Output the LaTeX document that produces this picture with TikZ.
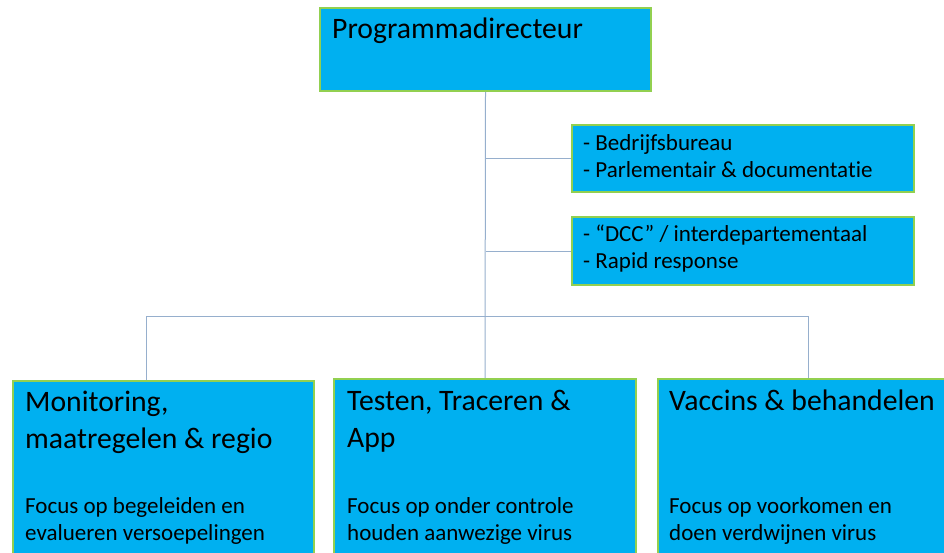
\documentclass[tikz,border=0pt]{standalone}
\usepackage{fontspec}
\setmainfont[Ligatures=CommonOff]{Carlito}
\definecolor{boxfill}{RGB}{0,176,240}
\definecolor{boxedge}{RGB}{146,208,80}
\definecolor{connc}{RGB}{150,175,205}
\begin{document}
\begin{tikzpicture}[x=1pt,y=-1pt,
  box/.style={draw=boxedge, line width=2pt, fill=boxfill, inner sep=0pt, anchor=north west},
  hd/.style={anchor=base west, inner sep=0pt, font=\fontsize{29.7}{34}\selectfont},
  bd/.style={anchor=base west, inner sep=0pt, font=\fontsize{23}{27}\selectfont},
  conn/.style={draw=connc, line width=1pt}]
\useasboundingbox (0,0) rectangle (944,553);
\clip (0,0) rectangle (944,553);
% boxes
\node[box, minimum width=331pt, minimum height=83pt] (top) at (319,7) {};
\node[box, minimum width=342pt, minimum height=67pt] (s1) at (571,124) {};
\node[box, minimum width=342pt, minimum height=68pt] (s2) at (571,216) {};
\node[box, minimum width=301pt, minimum height=200pt] (left) at (12,380) {};
\node[box, minimum width=302pt, minimum height=200pt] (mid) at (333,378) {};
\node[box, minimum width=302pt, minimum height=200pt] (right) at (657,378) {};
% connectors
\coordinate (jL) at (146,316);
\coordinate (jR) at (808,316);
\draw[conn] (top.south) -- (mid.north);
\draw[conn] (top.south |- s1.west) -- (s1.west);
\draw[conn] (top.south |- s2.west) -- (s2.west);
\draw[conn] (jL) -- (jR);
\draw[conn] (jL) -- (jL |- left.north);
\draw[conn] (jR) -- (jR |- right.north);
% texts
\node[hd] (ttop) at (332,39) {Programmadirecteur};
\node[bd] (s1a) at (583,151) {- Bedrijfsbureau};
\node[bd] (s1b) at (583,178) {- Parlementair \& documentatie};
\node[bd] (s2a) at (583,242) {- “DCC” / interdepartementaal};
\node[bd] (s2b) at (583,269) {- Rapid response};
\node[hd] (l1) at (25,411) {Monitoring,};
\node[hd] (l2) at (25,448) {maatregelen \& regio};
\node[bd] (l3) at (25,513) {Focus op begeleiden en};
\node[bd] (l4) at (25,540) {evalueren versoepelingen};
\node[hd] (m1) at (347,410) {Testen, Traceren \&};
\node[hd] (m2) at (347,447) {App};
\node[bd] (m3) at (347,513) {Focus op onder controle};
\node[bd] (m4) at (347,540) {houden aanwezige virus};
\node[hd] (r1) at (669,410) {Vaccins \& behandelen};
\node[bd] (r3) at (669,513) {Focus op voorkomen en};
\node[bd] (r4) at (669,540) {doen verdwijnen virus};
\end{tikzpicture}
\end{document}
